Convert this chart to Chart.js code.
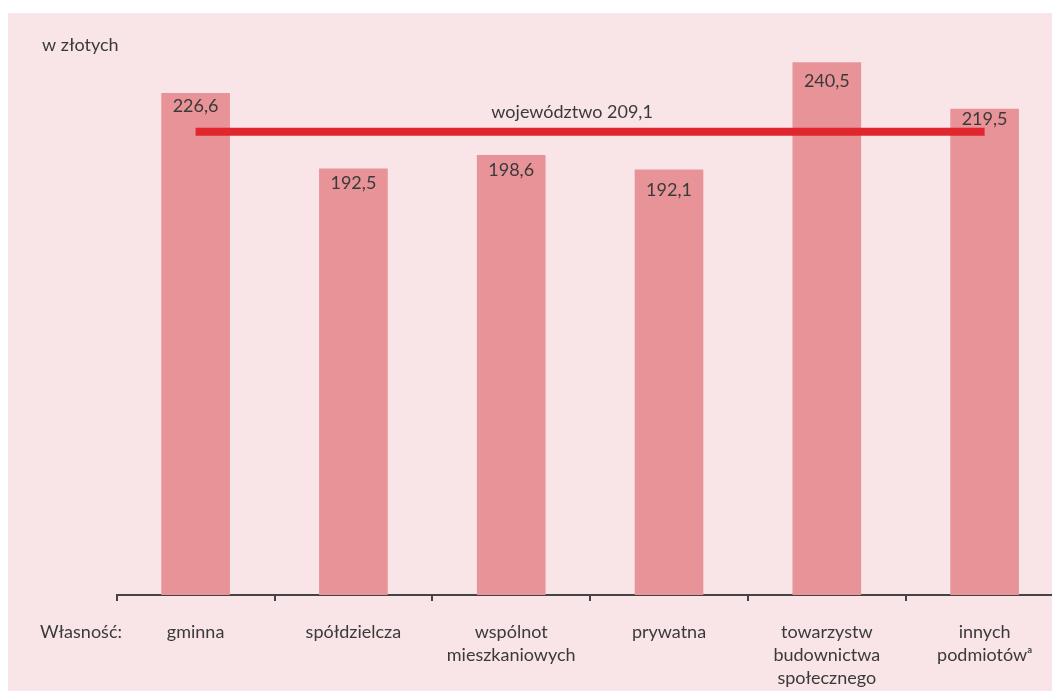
<!DOCTYPE html>
<html lang="pl">
<head>
<meta charset="utf-8">
<title>Opłaty za mieszkanie według własności</title>
<script src="https://cdn.jsdelivr.net/npm/chart.js@4/dist/chart.umd.min.js"></script>
<style>
    html, body { margin: 0; padding: 0; background: #ffffff; overflow: hidden; }
    #panel { position: absolute; left: 8px; top: 13px; right: 0; bottom: 0; background: #f9e5e7; }
    #wrap { position: absolute; left: 0; top: 0; width: 1080px; height: 711px; }
</style>
</head>
<body>
<div id="panel"></div>
<div id="wrap"><canvas id="chart" width="1080" height="711"></canvas></div>
<script>
// ownership categories (multi-line labels)
const categories = [
    ["gminna"],
    ["spółdzielcza"],
    ["wspólnot", "mieszkaniowych"],
    ["prywatna"],
    ["towarzystw", "budownictwa", "społecznego"],
    ["innych", "podmiotówᵃ"]
];
// average value per ownership type, in PLN
const values = [226.6, 192.5, 198.6, 192.1, 240.5, 219.5];
// voivodeship average
const regionAverage = 209.1;
const regionLabel = "województwo";
const unitLabel = "w złotych";
const axisTitle = "Własność:";

const FONT = "Lato, 'Open Sans', sans-serif";
const TEXT = "#3a3a3a";

const fmt = v => v.toFixed(1).replace(".", ",");

// value labels inside the top of each bar, plus the average caption and side texts
const annotations = {
    id: "annotations",
    afterDatasetsDraw(chart) {
        const ctx = chart.ctx;
        const bars = chart.getDatasetMeta(1).data;
        ctx.save();
        ctx.fillStyle = TEXT;
        ctx.font = "18px " + FONT;
        ctx.textAlign = "center";
        ctx.textBaseline = "middle";
        const offsets = [13, 15, 15, 21, 19, 10];
        bars.forEach((bar, i) => {
            ctx.fillText(fmt(values[i]), bar.x, bar.y + offsets[i]);
        });

        const x = chart.scales.x;
        const y = chart.scales.y;
        ctx.fillText(regionLabel + " " + fmt(regionAverage),
            x.getPixelForValue(2.5) - 18, y.getPixelForValue(regionAverage) - 20);

        ctx.textAlign = "left";
        ctx.fillText(unitLabel, 42, 45);
        ctx.fillText(axisTitle, 40, 632);
        ctx.restore();
    }
};

new Chart(document.getElementById("chart"), {
    data: {
        labels: categories,
        datasets: [
            {
                type: "line",
                label: regionLabel,
                data: categories.map(() => regionAverage),
                borderColor: "#e0272d",
                borderWidth: 8,
                borderCapStyle: "butt",
                pointRadius: 0,
                order: 0
            },
            {
                type: "bar",
                label: "własność",
                data: values,
                backgroundColor: "#e79397",
                barPercentage: 0.435,
                categoryPercentage: 1,
                order: 1
            }
        ]
    },
    options: {
        responsive: false,
        animation: false,
        layout: { padding: { left: 116.7, right: 16.5, top: 19, bottom: 1 } },
        plugins: {
            legend: { display: false },
            tooltip: { enabled: false }
        },
        scales: {
            x: {
                offset: true,
                grid: {
                    offset: true,
                    drawOnChartArea: false,
                    drawTicks: true,
                    tickLength: 6,
                    color: "#444444",
                    lineWidth: 2
                },
                border: { color: "#444444", width: 2 },
                ticks: {
                    color: TEXT,
                    padding: 20,
                    maxRotation: 0,
                    autoSkip: false,
                    font: { family: FONT, size: 18, lineHeight: "23px" }
                }
            },
            y: {
                display: false,
                min: 0,
                max: 260
            }
        }
    },
    plugins: [annotations]
});
</script>
</body>
</html>
